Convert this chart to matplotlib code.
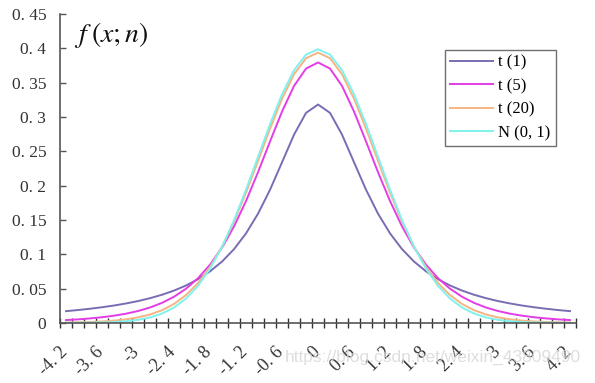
import matplotlib
matplotlib.use('Agg')
import matplotlib.pyplot as plt
import matplotlib.transforms as mtransforms

# x categories, step 0.2 from -4.2 to 4.2
x_vals = [-4.2, -4.0, -3.8, -3.6, -3.4, -3.2, -3.0, -2.8, -2.6, -2.4, -2.2,
          -2.0, -1.8, -1.6, -1.4, -1.2, -1.0, -0.8, -0.6, -0.4, -0.2, 0.0,
          0.2, 0.4, 0.6, 0.8, 1.0, 1.2, 1.4, 1.6, 1.8, 2.0, 2.2, 2.4, 2.6,
          2.8, 3.0, 3.2, 3.4, 3.6, 3.8, 4.0, 4.2]

# right half of each curve (x = 0.0 ... 4.2), mirrored below
t1_half = [0.3183, 0.3061, 0.2744, 0.2341, 0.1941, 0.1592, 0.1305, 0.1075,
           0.0894, 0.0751, 0.0637, 0.0545, 0.0471, 0.0410, 0.0360, 0.0318,
           0.0283, 0.0253, 0.0228, 0.0206, 0.0187, 0.0171]
t5_half = [0.3796, 0.3707, 0.3454, 0.3081, 0.2645, 0.2197, 0.1777, 0.1407,
           0.1098, 0.0848, 0.0651, 0.0498, 0.0381, 0.0292, 0.0224, 0.0173,
           0.0134, 0.0105, 0.0082, 0.0065, 0.0051, 0.0041]
t20_half = [0.3940, 0.3858, 0.3624, 0.3267, 0.2831, 0.2361, 0.1899, 0.1476,
            0.1112, 0.0815, 0.0581, 0.0405, 0.0276, 0.0185, 0.0122, 0.0080,
            0.0051, 0.0033, 0.0021, 0.0013, 0.0008, 0.0005]
norm_half = [0.3989, 0.3910, 0.3683, 0.3332, 0.2897, 0.2420, 0.1942, 0.1497,
             0.1109, 0.0790, 0.0540, 0.0355, 0.0224, 0.0136, 0.0079, 0.0044,
             0.0024, 0.0012, 0.0006, 0.0003, 0.0001, 0.0001]

series_names = ['t (1)', 't (5)', 't (20)', 'N (0, 1)']
series_colors = ['#7a6cb4', '#e43ce6', '#f6b483', '#7ff2ee']

y_ticks = [0, 0.05, 0.1, 0.15, 0.2, 0.25, 0.3, 0.35, 0.4, 0.45]
y_tick_labels = ['0', '0. 05', '0. 1', '0. 15', '0. 2', '0. 25', '0. 3',
                 '0. 35', '0. 4', '0. 45']
x_tick_labels = ['-4. 2', '-3. 6', '-3', '-2. 4', '-1. 8', '-1. 2', '-0. 6',
                 '0', '0. 6', '1. 2', '1. 8', '2. 4', '3', '3. 6', '4. 2']


def full_curve(half):
    return half[:0:-1] + half


plt.rcParams['font.family'] = ['Liberation Serif', 'DejaVu Serif']
plt.rcParams['mathtext.fontset'] = 'stix'

fig = plt.figure(figsize=(5.95, 3.83), dpi=100)
ax = fig.add_axes([0.101, 0.157, 0.867, 0.806])

idx = list(range(len(x_vals)))
for half, name, col in zip([t1_half, t5_half, t20_half, norm_half],
                           series_names, series_colors):
    ax.plot(idx, full_curve(half), color=col, lw=1.4, label=name)

ax.set_xlim(-0.5, len(x_vals) - 0.5)
ax.set_ylim(0, 0.45)

ax.spines['top'].set_visible(False)
ax.spines['right'].set_visible(False)
for s in ['left', 'bottom']:
    ax.spines[s].set_color('#555555')
    ax.spines[s].set_linewidth(1.2)

# category boundaries get tick marks, every third category gets a label
ax.set_xticks([i - 0.5 for i in range(len(x_vals) + 1)])
ax.set_xticklabels([])
ax.tick_params(axis='x', which='major', direction='inout', length=7,
               width=1, color='#333333')
ax.set_xticks(idx[::3], minor=True)
ax.set_xticklabels(x_tick_labels, minor=True, rotation=45, ha='right',
                   va='top', rotation_mode='anchor', fontsize=13,
                   color='#333333')
ax.tick_params(axis='x', which='minor', length=0, pad=15)
shift = mtransforms.ScaledTranslation(-0.07, 0, fig.dpi_scale_trans)
for lab in ax.get_xticklabels(minor=True):
    lab.set_transform(lab.get_transform() + shift)

ax.set_yticks(y_ticks)
ax.set_yticklabels(y_tick_labels, fontsize=12.5, color='#333333')
ax.tick_params(axis='y', direction='in', length=4, width=1,
               color='#555555', pad=10)

fig.text(0.124, 0.89, r'$f\;(x;n)$', fontsize=20, color='#111111')

leg = ax.legend(loc='upper left', bbox_to_anchor=(0.748, 0.87),
                bbox_transform=fig.transFigure, fancybox=False,
                edgecolor='#707070', framealpha=1, fontsize=12,
                handlelength=2.6, labelspacing=0.45, borderpad=0.3,
                handletextpad=0.3, borderaxespad=0)
leg.get_frame().set_linewidth(1.0)

fig.text(0.478, 0.055, 'https://blog.csdn.net/weixin_43809490',
         fontsize=12.5, color='#d6d6d6', family='Liberation Sans', alpha=0.8)

fig.savefig('out.png', dpi=100)
